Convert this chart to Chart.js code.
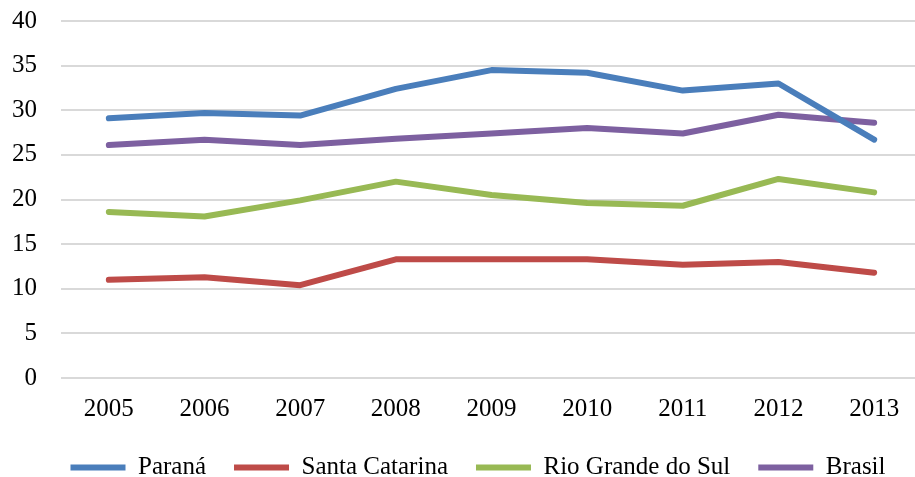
<!DOCTYPE html>
<html>
<head>
<meta charset="utf-8">
<script src="https://cdn.jsdelivr.net/npm/chart.js@4/dist/chart.umd.min.js"></script>
<style>
    html, body { margin:0; padding:0; background:#fff; overflow:hidden; }
    div.chart-wrap { width:915px; height:477px; overflow:hidden; position:relative; }
    canvas { display:block; }
</style>
</head>
<body>
<div class="chart-wrap">
    <canvas id="cnv-taxa" width="922" height="490"></canvas>
</div>
<script>
//--------------------------------------
// Data
//--------------------------------------
var years = ['2005','2006','2007','2008','2009','2010','2011','2012','2013'];
var seriesNames = ['Paraná','Santa Catarina','Rio Grande do Sul','Brasil'];
var parana = [29.1, 29.7, 29.4, 32.4, 34.5, 34.2, 32.2, 33.0, 26.7];
var santaCatarina = [11.0, 11.3, 10.4, 13.3, 13.3, 13.3, 12.7, 13.0, 11.8];
var rioGrandeDoSul = [18.6, 18.1, 19.9, 22.0, 20.5, 19.6, 19.3, 22.3, 20.8];
var brasil = [26.1, 26.7, 26.1, 26.8, 27.4, 28.0, 27.4, 29.5, 28.6];
var yTicks = [0, 5, 10, 15, 20, 25, 30, 35, 40];

(function(win){

    var colors = ['#4a7ebb', '#be4b48', '#98b954', '#7d60a0'];
    var font = { family:"'Liberation Serif', 'Times New Roman', serif", size:25 };

    var makeSet = function(i, values){
        return {
            label: seriesNames[i],
            data: values,
            borderColor: colors[i],
            backgroundColor: colors[i],
            borderWidth: 6,
            borderCapStyle: 'round',
            borderJoinStyle: 'round',
            pointRadius: 0,
            pointHoverRadius: 0,
            tension: 0
        };
    };

    //legend is centred on the whole picture, not on the plot
    var legendShift = {
        id: 'legendShift',
        afterLayout: function(chart){
            chart.legend.left += 17;
            chart.legend.right += 17;
        }
    };

    var setChart = function(){
        var cnv = document.getElementById('cnv-taxa');
        var chart = new Chart(cnv, {
            type: 'line',
            data: {
                labels: years,
                datasets: [
                    makeSet(0, parana),
                    makeSet(1, santaCatarina),
                    makeSet(2, rioGrandeDoSul),
                    makeSet(3, brasil)
                ]
            },
            plugins: [legendShift],
            options: {
                responsive: false,
                animation: false,
                devicePixelRatio: 1,
                layout: { padding: { left:0, right:0, top:21, bottom:0 } },
                plugins: {
                    tooltip: { enabled:false },
                    legend: {
                        position: 'bottom',
                        labels: {
                            usePointStyle: true,
                            pointStyle: 'line',
                            pointStyleWidth: 55,
                            padding: 28,
                            color: '#000',
                            font: font
                        }
                    }
                },
                scales: {
                    x: {
                        offset: true,
                        grid: { display:false },
                        border: { display:false },
                        ticks: { color:'#000', font:font, padding:8, maxRotation:0 },
                        afterFit: function(scale){ scale.height = 49; }
                    },
                    y: {
                        min: yTicks[0],
                        max: yTicks[yTicks.length - 1],
                        grid: { color:'#d9d9d9', lineWidth:2, drawTicks:false },
                        border: { display:false },
                        ticks: { stepSize:5, color:'#000', font:font, padding:24 },
                        afterBuildTicks: function(scale){
                            scale.ticks = yTicks.map(function(v){ return { value:v }; });
                        },
                        afterFit: function(scale){
                            //tick padding should only push labels sideways
                            scale.width = 61;
                            scale.paddingTop = 0;
                            scale.paddingBottom = 0;
                        }
                    }
                }
            }
        });
    };

    setChart();

})(window);
</script>
</body>
</html>
